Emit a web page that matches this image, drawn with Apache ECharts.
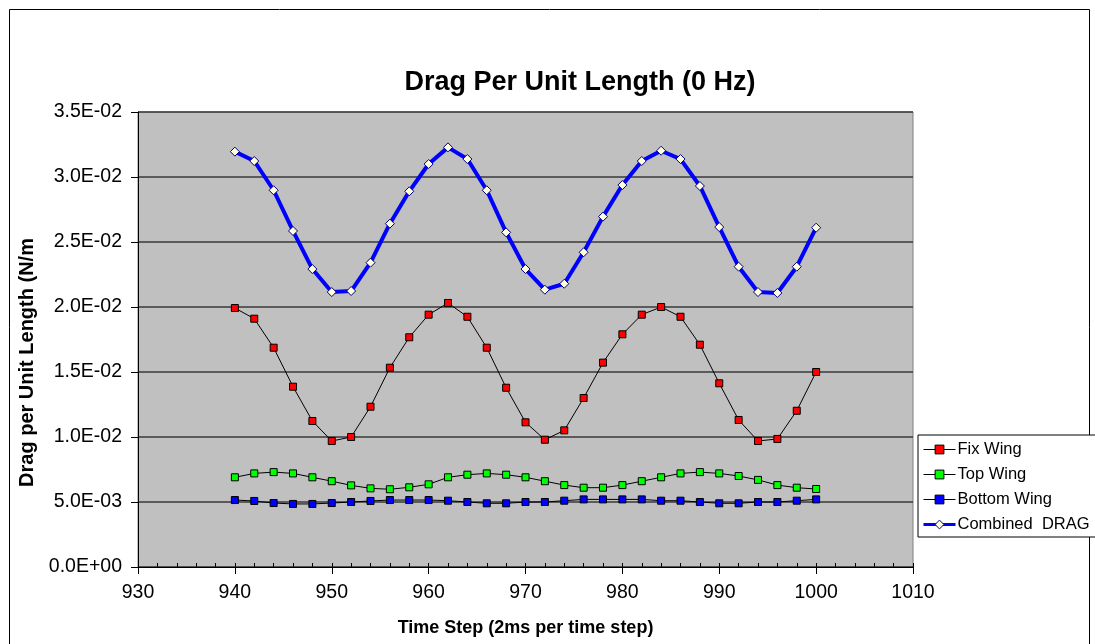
<!DOCTYPE html>
<html>
<head>
<meta charset="utf-8">
<script src="https://cdn.jsdelivr.net/npm/echarts@6/dist/echarts.min.js"></script>
<style>
html,body{margin:0;padding:0;background:#fff;}
#chart{width:1095px;height:644px;}
</style>
</head>
<body>
<div id="chart"></div>
<script>
const steps = [940,942,944,946,948,950,952,954,956,958,960,962,964,966,968,970,972,974,976,978,980,982,984,986,988,990,992,994,996,998,1000];
const fixWing = [0.01992,0.0191,0.01687,0.01387,0.01123,0.00969,0.0100,0.01233,0.01533,0.01767,0.01941,0.02031,0.01925,0.01687,0.01379,0.01113,0.00979,0.01051,0.0130,0.01572,0.0179,0.01941,0.0200,0.01925,0.0171,0.01413,0.01131,0.00969,0.00985,0.01202,0.0150];
const topWing = [0.0069,0.0072,0.0073,0.0072,0.0069,0.0066,0.00628,0.00605,0.00598,0.00613,0.00636,0.0069,0.0071,0.0072,0.0071,0.0069,0.0066,0.0063,0.0061,0.0061,0.0063,0.0066,0.0069,0.0072,0.0073,0.0072,0.0070,0.0067,0.0063,0.0061,0.0060];
const bottomWing = [0.00515,0.00508,0.00492,0.00485,0.00485,0.00492,0.0050,0.00508,0.00515,0.00515,0.00515,0.0051,0.0050,0.0049,0.0049,0.0050,0.0050,0.0051,0.0052,0.0052,0.0052,0.0052,0.0051,0.0051,0.0050,0.0049,0.0049,0.0050,0.0050,0.0051,0.0052];
const combined = [0.03195,0.03123,0.02898,0.02585,0.02292,0.02115,0.02123,0.02341,0.02641,0.0289,0.0310,0.03228,0.03138,0.02898,0.02574,0.02292,0.02133,0.02179,0.02421,0.02695,0.02938,0.03123,0.03202,0.03138,0.02931,0.02615,0.0231,0.02115,0.02108,0.0231,0.0261];
const seriesNames = ['Fix Wing','Top Wing','Bottom Wing','Combined  DRAG'];

const FONT = 'Liberation Sans, Arial, sans-serif';
function pairs(vals){ return steps.map((s,i)=>[s, vals[i]]); }
function expFmt(v){
  let s = Number(v).toExponential(1);
  let m = s.split('e');
  let e = parseInt(m[1],10);
  let sign = e < 0 ? '-' : '+';
  let a = Math.abs(e);
  return m[0] + 'E' + sign + (a < 10 ? '0' + a : '' + a);
}
function smallSeries(name, vals, color){
  return {
    name: name, type: 'line', xAxisIndex: 0, data: pairs(vals),
    symbol: 'rect', symbolSize: 7, showAllSymbol: true,
    lineStyle: {color: '#000', width: 1},
    itemStyle: {color: color, borderColor: '#000', borderWidth: 1},
    emphasis: {disabled: true}, z: 3
  };
}
const chart = echarts.init(document.getElementById('chart'), null, {renderer: 'canvas'});
const option = {
  animation: false,
  backgroundColor: '#fff',
  title: {
    text: 'Drag Per Unit Length (0 Hz)', left: 575, top: 64, textAlign: 'center',
    textStyle: {fontFamily: FONT, fontSize: 27, fontWeight: 'bold', color: '#000'}
  },
  grid: {left: 138, top: 112, right: 182, bottom: 77, show: true, backgroundColor: '#C0C0C0', borderColor: '#808080', borderWidth: 1},
  legend: {
    orient: 'vertical', left: 918, top: 435,
    data: [
      {name: seriesNames[0], itemStyle: {color: '#FF0000', borderColor: '#000', borderWidth: 1}, lineStyle: {color: '#000', width: 1}},
      {name: seriesNames[1], itemStyle: {color: '#00FF00', borderColor: '#000', borderWidth: 1}, lineStyle: {color: '#000', width: 1}},
      {name: seriesNames[2], itemStyle: {color: '#0000FF', borderColor: '#000', borderWidth: 1}, lineStyle: {color: '#000', width: 1}},
      {name: seriesNames[3], itemStyle: {color: '#FFFFE0', borderColor: '#000080', borderWidth: 1}, lineStyle: {color: '#0000FF', width: 3}}
    ],
    backgroundColor: '#fff', borderColor: '#000', borderWidth: 1,
    padding: [6, 6, 4, 4], itemGap: 8, itemWidth: 32, itemHeight: 11,
    textStyle: {fontFamily: FONT, fontSize: 16.5, color: '#000', padding: [0,0,0,-3]}
  },
  xAxis: [{
    type: 'value', min: 930, max: 1010, interval: 10,
    name: 'Time Step (2ms per time step)', nameLocation: 'middle', nameGap: 52,
    nameTextStyle: {fontFamily: FONT, fontSize: 18, fontWeight: 'bold', color: '#000'},
    axisLine: {onZero: false, lineStyle: {color: '#000', width: 1}},
    axisTick: {show: true, length: 7, lineStyle: {color: '#000'}},
    axisLabel: {fontFamily: FONT, fontSize: 19.5, color: '#000', margin: 16, formatter: function(v){ return String(v); }},
    splitLine: {show: false}
  }, {
    type: 'value', min: 930, max: 1010, interval: 2, position: 'bottom',
    axisLine: {show: false},
    axisTick: {show: true, inside: true, length: 4, lineStyle: {color: '#000'}},
    axisLabel: {show: false}, splitLine: {show: false}
  }],
  yAxis: {
    type: 'value', min: 0, max: 0.035, interval: 0.005,
    name: 'Drag per Unit Length (N/m', nameLocation: 'middle', nameGap: 94,
    nameTextStyle: {fontFamily: FONT, fontSize: 20, fontWeight: 'bold', color: '#000', padding: [0, 0, 0, -46]},
    axisLine: {show: true, lineStyle: {color: '#000', width: 1}},
    axisTick: {show: true, length: 7, lineStyle: {color: '#000'}},
    axisLabel: {fontFamily: FONT, fontSize: 19.5, color: '#000', margin: 16, formatter: expFmt},
    splitLine: {show: true, lineStyle: {color: '#3a3a3a', width: 1.5}}
  },
  series: [
    smallSeries(seriesNames[0], fixWing, '#FF0000'),
    smallSeries(seriesNames[1], topWing, '#00FF00'),
    smallSeries(seriesNames[2], bottomWing, '#0000FF'),
    {
      name: seriesNames[3], type: 'line', xAxisIndex: 0, data: pairs(combined),
      symbol: 'diamond', symbolSize: 9, showAllSymbol: true,
      lineStyle: {color: '#0000FF', width: 4},
      itemStyle: {color: '#FFFFE0', borderColor: '#000080', borderWidth: 1},
      emphasis: {disabled: true}, z: 4
    }
  ],
  graphic: [{
    type: 'rect', left: 7, top: 7, shape: {x: 0, y: 0, width: 1080, height: 650},
    style: {fill: 'none', stroke: '#000', lineWidth: 1}, silent: true, z: -1
  }]
};
chart.setOption(option);
</script>
</body>
</html>
